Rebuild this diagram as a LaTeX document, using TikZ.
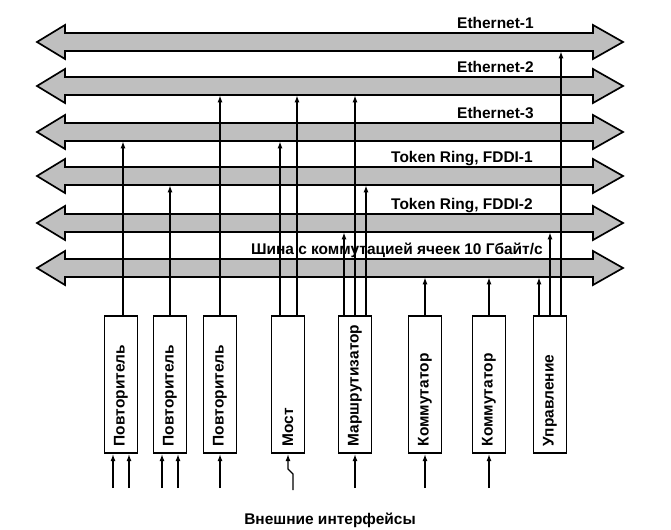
\documentclass[tikz,border=0pt]{standalone}
\usepackage{fontspec}
\setmainfont{Liberation Sans}
\usetikzlibrary{calc,arrows.meta}

\begin{document}
\begin{tikzpicture}[x=0.025cm,y=-0.025cm,
    bus/.style={draw,line width=1.2pt,fill=black!25},
    shaft/.style={inner sep=0pt,minimum width=13.2cm,minimum height=0.45cm},
    lbl/.style={anchor=base east,inner sep=0pt,font=\bfseries\fontsize{11}{13}\selectfont},
    box/.style={draw,line width=1.2pt,fill=white,rotate=90,anchor=west,inner xsep=0.175cm,inner ysep=0pt,
        text width=3.075cm,align=left,minimum height=0.825cm,font=\bfseries\fontsize{11}{13}\selectfont},
    link/.style={line width=0.9pt,-{Latex[length=5pt,width=3.5pt]}}]
    \useasboundingbox (0,0) rectangle (671,530);
    \foreach \n/\yc/\xe/\txt in {1/42/534/Ethernet-1, 2/86/534/Ethernet-2, 3/132/534/Ethernet-3,
        4/176/533/{Token Ring, FDDI-1}, 5/223/533/{Token Ring, FDDI-2},
        6/268/543/{Шина с коммутацией ячеек 10 Гбайт/с}} {
        \draw[bus] (37,\yc) -- (65,\yc-17) -- (65,\yc-9) -- (593,\yc-9) -- (593,\yc-17) -- (623,\yc)
            -- (593,\yc+17) -- (593,\yc+9) -- (65,\yc+9) -- (65,\yc+17) -- cycle;
        \node[shaft] (bus\n) at (329,\yc) {};
        \node[lbl] (lbl\n) at (\xe,\yc-13) {\txt};
    }

    \node[box] (b1) at (121,454) {Повторитель};
    \node[box] (b2) at (170,454) {Повторитель};
    \node[box] (b3) at (220,454) {Повторитель};
    \node[box] (b4) at (288,454) {Мост};
    \node[box] (b5) at (355,454) {Маршрутизатор};
    \node[box] (b6) at (425,454) {Коммутатор};
    \node[box] (b7) at (489,454) {Коммутатор};
    \node[box] (b8) at (550,454) {Управление};

    \foreach \b/\dx/\n in {1/2/3, 2/0/4, 3/0/2, 4/-8/3, 4/9/2, 5/-11/5, 5/0/2, 5/11/4,
        6/0/6, 7/0/6, 8/-11/6, 8/0/5, 8/11/1}
        \draw[link] (b\b.east) ++(\dx,0) coordinate (p) -- (p |- bus\n.south);

    \foreach \b/\dx in {1/-8, 1/8, 2/-8, 2/8, 3/0, 5/0, 6/0, 7/0}
        \draw[link] (b\b.west) ++(\dx,34) coordinate (q) -- (q |- b\b.west);
    \draw[link] (b4.west) ++(5,36) -- ++(0,-16) -- ++(-5,-5) -- (b4.west);

    \node[lbl,anchor=center] (ext) at (330,520) {Внешние интерфейсы};
\end{tikzpicture}
\end{document}
